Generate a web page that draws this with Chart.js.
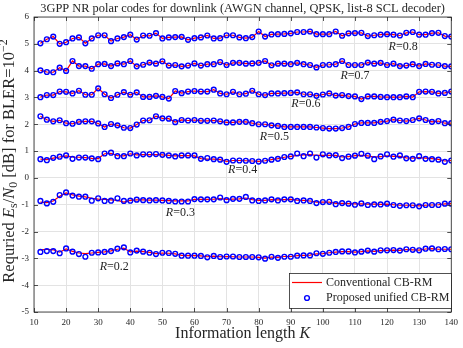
<!DOCTYPE html>
<html>
<head>
<meta charset="utf-8">
<script src="https://cdn.jsdelivr.net/npm/chart.js@4.4.1/dist/chart.umd.min.js"></script>
<style>
  html, body { margin: 0; padding: 0; background: #fff; }
  #chart { display: block; }
</style>
</head>
<body>
<canvas id="chart" width="463" height="348"></canvas>
<script>
// Information length K (x values)
const infoLen = [12, 14, 16, 18, 20, 22, 24, 26, 28, 30, 32, 34, 36, 38, 40, 42, 44, 46, 48, 50,
    52, 54, 56, 58, 60, 62, 64, 66, 68, 70, 72, 74, 76, 78, 80, 82, 84, 86, 88, 90,
    92, 94, 96, 98, 100, 102, 104, 106, 108, 110, 112, 114, 116, 118, 120, 122, 124, 126, 128, 130,
    132, 134, 136, 138, 140];

// Required Es/N0 [dB] per code rate
const rate08 = [5.02, 5.17, 5.27, 5.0, 5.06, 5.2, 5.24, 5.02, 5.2, 5.32, 5.32, 5.1, 5.2, 5.25, 5.34, 5.16,
    5.31, 5.3, 5.4, 5.2, 5.24, 5.25, 5.26, 5.15, 5.21, 5.24, 5.31, 5.2, 5.21, 5.32, 5.32, 5.24,
    5.21, 5.25, 5.46, 5.27, 5.35, 5.36, 5.37, 5.39, 5.44, 5.44, 5.46, 5.36, 5.36, 5.36, 5.46, 5.3,
    5.39, 5.4, 5.41, 5.29, 5.32, 5.34, 5.36, 5.34, 5.31, 5.41, 5.44, 5.34, 5.34, 5.4, 5.41, 5.29, 5.27];
const rate07 = [4.01, 3.95, 3.94, 4.11, 3.99, 4.36, 4.17, 4.17, 4.07, 4.24, 4.25, 4.17, 4.27, 4.24, 4.36, 4.16,
    4.22, 4.3, 4.26, 4.35, 4.19, 4.21, 4.16, 4.19, 4.27, 4.19, 4.24, 4.24, 4.32, 4.21, 4.29, 4.29,
    4.26, 4.27, 4.29, 4.36, 4.2, 4.26, 4.26, 4.24, 4.29, 4.24, 4.21, 4.12, 4.21, 4.22, 4.24, 4.36,
    4.21, 4.21, 4.21, 4.3, 4.26, 4.29, 4.21, 4.26, 4.17, 4.19, 4.24, 4.17, 4.25, 4.22, 4.21, 4.17, 4.16];
const rate06 = [3.01, 3.09, 3.09, 3.22, 3.21, 3.15, 3.25, 3.1, 3.1, 3.34, 3.12, 2.98, 3.1, 3.2, 3.1, 3.19,
    3.02, 3.02, 3.06, 3.02, 2.96, 3.24, 3.16, 3.22, 3.24, 3.22, 3.22, 3.29, 3.15, 3.12, 3.21, 3.12,
    3.14, 3.25, 3.12, 3.09, 3.15, 3.15, 3.16, 3.17, 3.19, 3.12, 3.12, 3.06, 3.11, 3.15, 3.07, 3.09,
    3.05, 3.04, 2.94, 3.04, 3.04, 3.02, 3.01, 3.01, 3.01, 3.04, 3.01, 3.21, 3.22, 3.21, 3.15, 3.17, 3.22];
const rate05 = [2.3, 2.17, 2.11, 2.15, 2.04, 2.02, 2.09, 2.11, 2.11, 2.03, 1.9, 2.01, 1.96, 1.87, 1.86, 1.99,
    2.14, 2.15, 2.3, 2.22, 2.21, 2.08, 2.16, 2.14, 2.16, 2.13, 2.13, 2.14, 2.11, 2.07, 2.07, 2.09,
    2.09, 2.04, 2.0, 2.0, 1.96, 1.94, 1.9, 1.9, 1.9, 1.9, 1.9, 1.88, 1.86, 1.84, 1.84, 1.86,
    1.9, 2.01, 2.05, 2.05, 2.05, 2.09, 2.12, 2.17, 2.14, 2.12, 2.16, 2.22, 2.16, 2.09, 2.12, 2.04, 2.04];
const rate04 = [0.7, 0.66, 0.75, 0.79, 0.84, 0.71, 0.76, 0.76, 0.73, 0.7, 0.91, 0.94, 0.81, 0.81, 0.91, 0.84,
    0.88, 0.88, 0.89, 0.86, 0.84, 0.8, 0.84, 0.84, 0.84, 0.71, 0.74, 0.7, 0.68, 0.6, 0.65, 0.65,
    0.64, 0.63, 0.61, 0.64, 0.68, 0.71, 0.78, 0.8, 0.91, 0.81, 0.91, 0.76, 0.88, 0.84, 0.85, 0.74,
    0.79, 0.83, 0.9, 0.83, 0.7, 0.8, 0.88, 0.79, 0.84, 0.73, 0.71, 0.81, 0.71, 0.7, 0.68, 0.6, 0.65];
const rate03 = [-0.86, -0.95, -0.89, -0.64, -0.54, -0.66, -0.7, -0.7, -0.85, -0.76, -0.86, -0.85, -0.76, -0.86, -0.85, -0.81,
    -0.83, -0.84, -0.83, -0.84, -0.86, -0.88, -0.88, -0.88, -0.79, -0.8, -0.8, -0.8, -0.73, -0.83, -0.78, -0.78,
    -0.71, -0.84, -0.86, -0.84, -0.8, -0.84, -0.8, -0.8, -0.86, -0.84, -0.86, -0.94, -0.9, -0.89, -0.98, -0.94,
    -0.96, -1.0, -0.95, -1.01, -0.99, -0.99, -0.96, -1.01, -1.04, -1.02, -1.02, -1.06, -1.01, -1.01, -1.01, -0.96, -0.96];
const rate02 = [-2.76, -2.73, -2.73, -2.81, -2.63, -2.75, -2.84, -2.94, -2.79, -2.78, -2.76, -2.73, -2.64, -2.59, -2.78, -2.71,
    -2.75, -2.79, -2.84, -2.79, -2.8, -2.83, -2.9, -2.9, -2.9, -2.91, -2.96, -2.91, -2.95, -2.93, -2.93, -2.95,
    -2.95, -2.95, -2.96, -3.01, -2.94, -2.98, -2.94, -2.94, -2.9, -2.89, -2.89, -2.81, -2.83, -2.79, -2.76, -2.74,
    -2.74, -2.78, -2.75, -2.71, -2.75, -2.7, -2.7, -2.69, -2.71, -2.66, -2.68, -2.7, -2.64, -2.63, -2.66, -2.65, -2.66];

// Conventional CB-RM curves that drift away from the circles at low rates
const conv04 = [0.7, 0.68, 0.74, 0.78, 0.82, 0.78, 0.77, 0.76, 0.73, 0.72, 0.9, 0.92, 0.83, 0.82, 0.9, 0.86,
    0.87, 0.87, 0.87, 0.86, 0.84, 0.82, 0.83, 0.83, 0.82, 0.72, 0.7, 0.7, 0.68, 0.62, 0.65, 0.65,
    0.64, 0.63, 0.62, 0.64, 0.68, 0.72, 0.77, 0.8, 0.84, 0.86, 0.87, 0.84, 0.84, 0.84, 0.84, 0.78,
    0.79, 0.83, 0.84, 0.82, 0.78, 0.79, 0.82, 0.8, 0.8, 0.75, 0.74, 0.76, 0.74, 0.72, 0.69, 0.63, 0.65];
const conv03 = [-0.9, -0.92, -0.86, -0.68, -0.56, -0.63, -0.68, -0.71, -0.76, -0.79, -0.8, -0.82, -0.84, -0.9, -0.84, -0.82,
    -0.82, -0.83, -0.83, -0.84, -0.85, -0.86, -0.86, -0.86, -0.8, -0.8, -0.8, -0.79, -0.77, -0.8, -0.79, -0.78,
    -0.75, -0.81, -0.84, -0.84, -0.81, -0.82, -0.81, -0.8, -0.83, -0.84, -0.86, -0.9, -0.9, -0.9, -0.95, -0.95,
    -0.96, -0.97, -0.97, -0.98, -0.98, -0.99, -0.98, -1.0, -1.02, -1.02, -1.02, -1.04, -1.02, -1.01, -1.0, -0.97, -0.96];
const conv02 = [-2.68, -2.66, -2.68, -2.77, -2.65, -2.74, -2.8, -2.82, -2.8, -2.78, -2.76, -2.72, -2.66, -2.62, -2.76, -2.73,
    -2.75, -2.78, -2.82, -2.8, -2.81, -2.83, -2.89, -2.9, -2.9, -2.91, -2.94, -2.92, -2.94, -2.93, -2.94, -2.95,
    -2.95, -2.95, -2.96, -2.99, -2.95, -2.96, -2.93, -2.93, -2.9, -2.89, -2.88, -2.83, -2.82, -2.79, -2.77, -2.75,
    -2.75, -2.77, -2.75, -2.72, -2.74, -2.71, -2.7, -2.69, -2.7, -2.67, -2.68, -2.69, -2.65, -2.64, -2.66, -2.66, -2.66];

const rateNames = ['0.8', '0.7', '0.6', '0.5', '0.4', '0.3', '0.2'];
const proposed = [rate08, rate07, rate06, rate05, rate04, rate03, rate02];
const conventional = [rate08, rate07, rate06, rate05, conv04, conv03, conv02];
// where each "R=..." label sits (K, dB)
const labelK = [125, 110, 94.7, 84.9, 75, 55.6, 35];
const labelDb = [4.88, 3.8, 2.76, 1.53, 0.3, -1.31, -3.32];

const titleText = '3GPP NR polar codes for downlink (AWGN channel, QPSK, list-8 SCL decoder)';
const SERIF = '"Liberation Serif", "DejaVu Serif", serif';
const INK = '#262626';

function toPoints(vals) {
    return infoLen.map((k, i) => ({ x: k, y: vals[i] }));
}

const datasets = [];
conventional.forEach((vals, i) => {
    datasets.push({
        label: 'Conventional CB-RM ' + rateNames[i],
        data: toPoints(vals),
        borderColor: '#ff0000',
        borderWidth: 1.2,
        pointRadius: 0,
        tension: 0,
        order: 1
    });
});
proposed.forEach((vals, i) => {
    datasets.push({
        label: 'Proposed unified CB-RM ' + rateNames[i],
        data: toPoints(vals),
        showLine: false,
        borderColor: '#0000ff',
        backgroundColor: 'rgba(0,0,0,0)',
        borderWidth: 1.4,
        pointRadius: 2.4,
        pointStyle: 'circle',
        order: 0
    });
});

// draw a run of text pieces, each {t, italic, shift, scale}
function drawPieces(ctx, pieces, size, x, y, align) {
    const fontFor = p => (p.italic ? 'italic ' : '') + (size * (p.scale || 1)).toFixed(1) + 'px ' + SERIF;
    let total = 0;
    pieces.forEach(p => { ctx.font = fontFor(p); total += ctx.measureText(p.t).width; });
    let cx = align === 'center' ? x - total / 2 : x;
    ctx.textAlign = 'left';
    ctx.textBaseline = 'middle';
    pieces.forEach(p => {
        ctx.font = fontFor(p);
        ctx.fillText(p.t, cx, y + (p.shift || 0) * size);
        cx += ctx.measureText(p.t).width;
    });
}

const matlabFrame = {
    id: 'matlabFrame',
    afterDraw(chart) {
        const ctx = chart.ctx;
        const a = chart.chartArea;
        const xs = chart.scales.x, ys = chart.scales.y;
        ctx.save();

        // box and inward ticks
        ctx.strokeStyle = INK;
        ctx.lineWidth = 0.8;
        ctx.strokeRect(a.left, a.top, a.right - a.left, a.bottom - a.top);
        ctx.beginPath();
        for (let k = 10; k <= 140; k += 10) {
            const px = Math.round(xs.getPixelForValue(k)) + 0.5;
            ctx.moveTo(px, a.bottom); ctx.lineTo(px, a.bottom - 4);
            ctx.moveTo(px, a.top); ctx.lineTo(px, a.top + 4);
        }
        for (let v = -5; v <= 6; v++) {
            const py = Math.round(ys.getPixelForValue(v)) + 0.5;
            ctx.moveTo(a.left, py); ctx.lineTo(a.left + 4, py);
            ctx.moveTo(a.right, py); ctx.lineTo(a.right - 4, py);
        }
        ctx.stroke();

        ctx.fillStyle = INK;
        // title
        drawPieces(ctx, [{ t: titleText }], 12.4, (a.left + a.right) / 2, 9, 'center');
        // x title
        drawPieces(ctx, [{ t: 'Information length ' }, { t: 'K', italic: true }], 16,
            (a.left + a.right) / 2, 334, 'center');
        // y title (rotated)
        ctx.save();
        ctx.translate(10, 161);
        ctx.rotate(-Math.PI / 2);
        drawPieces(ctx, [
            { t: 'Requried ' },
            { t: 'E', italic: true },
            { t: 's', scale: 0.72, shift: 0.25 },
            { t: '/' },
            { t: 'N', italic: true },
            { t: '0', scale: 0.72, shift: 0.25 },
            { t: ' [dB] for BLER=10' },
            { t: '\u22122', scale: 0.72, shift: -0.35 }
        ], 16.5, 0, 0, 'center');
        ctx.restore();

        // rate labels
        rateNames.forEach((r, i) => {
            drawPieces(ctx, [{ t: 'R', italic: true }, { t: '=' + r }], 12,
                xs.getPixelForValue(labelK[i]), ys.getPixelForValue(labelDb[i]), 'center');
        });

        // legend
        const lx = 289, ly = 273, lw = 162, lh = 35;
        ctx.fillStyle = '#ffffff';
        ctx.fillRect(lx, ly, lw, lh);
        ctx.strokeStyle = INK;
        ctx.lineWidth = 0.8;
        ctx.strokeRect(lx + 0.5, ly + 0.5, lw, lh);
        ctx.strokeStyle = '#ff0000';
        ctx.lineWidth = 1.2;
        ctx.beginPath();
        ctx.moveTo(lx + 3, ly + 9.5); ctx.lineTo(lx + 33, ly + 9.5);
        ctx.stroke();
        ctx.strokeStyle = '#0000ff';
        ctx.lineWidth = 1.4;
        ctx.beginPath();
        ctx.arc(lx + 18, ly + 25, 2.4, 0, Math.PI * 2);
        ctx.stroke();
        ctx.fillStyle = INK;
        drawPieces(ctx, [{ t: 'Conventional CB-RM' }], 12, lx + 37, ly + 9.5, 'left');
        drawPieces(ctx, [{ t: 'Proposed unified CB-RM' }], 12, lx + 37, ly + 25, 'left');

        ctx.restore();
    }
};

new Chart(document.getElementById('chart'), {
    type: 'line',
    data: { datasets: datasets },
    options: {
        responsive: false,
        animation: false,
        devicePixelRatio: 1,
        layout: { padding: { left: 0, right: 7, top: 17, bottom: 0 } },
        plugins: {
            legend: { display: false },
            title: { display: false },
            tooltip: { enabled: false }
        },
        scales: {
            x: {
                type: 'linear',
                min: 10,
                max: 140,
                ticks: { stepSize: 10, maxRotation: 0, padding: 5, color: INK, font: { family: SERIF, size: 9 } },
                grid: { color: '#e3e3e3', drawTicks: false },
                border: { display: false },
                afterFit: function(scale) { scale.height = 36; }
            },
            y: {
                type: 'linear',
                min: -5,
                max: 6,
                ticks: { stepSize: 1, padding: 5, color: INK, font: { family: SERIF, size: 9 } },
                grid: { color: '#e3e3e3', drawTicks: false },
                border: { display: false },
                afterFit: function(scale) { scale.width = 34; }
            }
        }
    },
    plugins: [matlabFrame]
});
</script>
</body>
</html>
